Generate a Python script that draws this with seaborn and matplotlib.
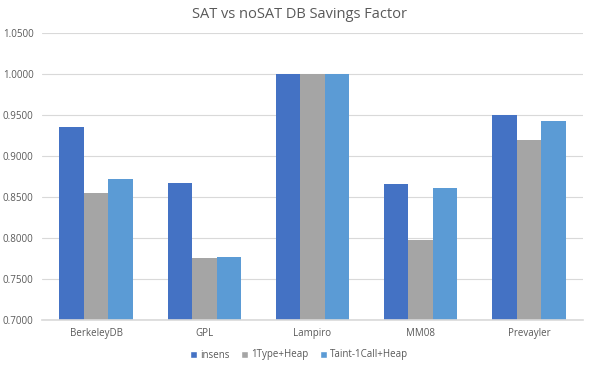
import pandas as pd
import numpy as np
import seaborn as sns
import matplotlib.pyplot as plt
from matplotlib.patches import Patch

# Chart data
benchmarks = ['BerkeleyDB', 'GPL', 'Lampiro', 'MM08', 'Prevayler']
series = ['insens', '1Type+Heap', 'Taint-1Call+Heap']
insens = [0.9350, 0.8665, 1.0000, 0.8655, 0.9500]
type_heap = [0.8545, 0.7755, 1.0000, 0.7970, 0.9190]
taint_heap = [0.8720, 0.7765, 1.0000, 0.8615, 0.9430]
colors = ['#4472C4', '#A5A5A5', '#5B9BD5']
yticks = [0.70, 0.75, 0.80, 0.85, 0.90, 0.95, 1.00, 1.05]

df = pd.DataFrame({
    'benchmark': benchmarks * 3,
    'series': [s for s in series for _ in benchmarks],
    'value': insens + type_heap + taint_heap,
})

sns.set_style('white')
plt.rcParams['font.family'] = ['Open Sans', 'DejaVu Sans']

fig = plt.figure(figsize=(5.98, 3.68), dpi=100)
ax = fig.add_axes([42 / 598, 1 - 320 / 368, 541 / 598, 287 / 368])

sns.barplot(data=df, x='benchmark', y='value', hue='series', palette=colors,
            width=0.68, ax=ax, legend=False, saturation=1, linewidth=0)

ax.set_ylim(0.70, 1.05)
ax.set_yticks(yticks)
ax.set_yticklabels([f'{v:.4f}' for v in yticks])
ax.set_xlim(-0.5, len(benchmarks) - 0.5)
ax.set_xlabel('')
ax.set_ylabel('')
ax.grid(axis='y', color='#D9D9D9', linewidth=0.8)
ax.set_axisbelow(True)
for side in ['top', 'right', 'left']:
    ax.spines[side].set_visible(False)
ax.spines['bottom'].set_color('#D9D9D9')
ax.spines['bottom'].set_linewidth(1.2)
ax.tick_params(axis='both', length=0, labelsize=7, labelcolor='#595959', pad=6)

fig.text(0.5, 1 - 14 / 368, 'SAT vs noSAT DB Savings Factor', ha='center', va='center',
         fontsize=10.5, color='#595959')

handles = [Patch(facecolor=c, label=s) for c, s in zip(colors, series)]
fig.legend(handles=handles, loc='center', bbox_to_anchor=(0.5, 1 - 355 / 368), ncol=3,
           frameon=False, fontsize=7, handlelength=0.7, handleheight=0.7,
           handletextpad=0.3, columnspacing=1.2, labelcolor='#595959')

plt.savefig('out.png', dpi=100)
